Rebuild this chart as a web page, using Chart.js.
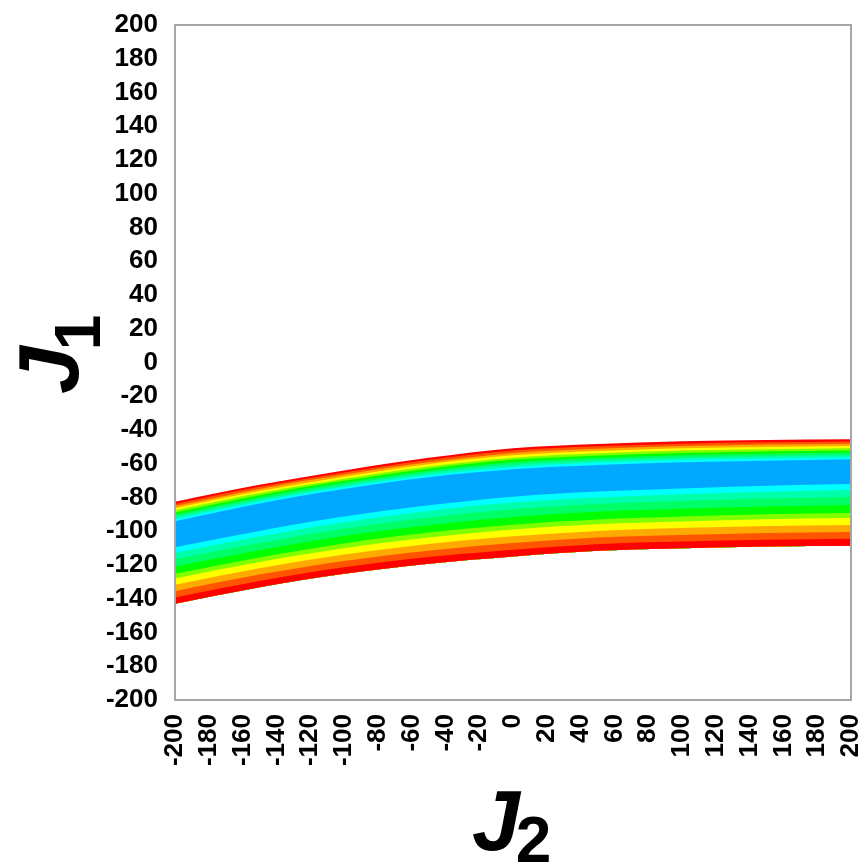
<!DOCTYPE html>
<html>
<head>
<meta charset="utf-8">
<script src="https://cdn.jsdelivr.net/npm/chart.js@4.4.1/dist/chart.umd.min.js"></script>
<style>
  body { margin: 0; background: #fff; }
</style>
</head>
<body>
<canvas id="grafik" width="865" height="866"></canvas>
<script>
// J2 sample positions along the x axis
const j2Values = [-200, -150, -100, -50, 0, 50, 100, 150, 200];

// contour level boundaries (J1 values), top to bottom
const edgeTop    = [-82.5, -72.5, -64,   -56.5, -50.8, -48.3, -46.7, -45.9, -45.5];
const upper1     = [-83.8, -73.7, -65.2, -57.8, -52.2, -49.7, -48.1, -47.3, -46.8];
const upper2     = [-85.1, -74.9, -66.4, -59.1, -53.6, -51.1, -49.5, -48.6, -48.1];
const upper3     = [-86.3, -76.2, -67.7, -60.3, -55.0, -52.4, -50.8, -50.0, -49.5];
const upper4     = [-87.6, -77.4, -68.9, -61.6, -56.4, -53.8, -52.2, -51.4, -50.8];
const upper5     = [-88.9, -78.6, -70.1, -62.9, -57.7, -55.2, -53.6, -52.7, -52.1];
const upper6     = [-90.2, -79.8, -71.3, -64.2, -59.1, -56.6, -55.0, -54.1, -53.4];
const upper7     = [-91.4, -81.1, -72.6, -65.4, -60.5, -57.9, -56.3, -55.5, -54.8];
const upper8     = [-92.7, -82.3, -73.8, -66.7, -61.9, -59.3, -57.7, -56.8, -56.1];
const blueTop    = [-94,   -83.5, -75,   -68,   -63.3, -60.7, -59.1, -58.2, -57.4];
const blueBottom = [-109.5, -99.8, -91.3, -84.6, -79.5, -76.5, -74.6, -73,  -72];
const lower1     = [-112.8, -103.1, -94.7, -88.0, -83.0, -80.0, -78.1, -76.6, -75.6];
const lower2     = [-116.6, -106.9, -98.5, -91.9, -87.0, -83.9, -82.1, -80.6, -79.7];
const lower3     = [-120.9, -111.2, -102.8, -96.4, -91.5, -88.4, -86.7, -85.3, -84.4];
const lower4     = [-125.2, -115.5, -107.2, -100.8, -96.1, -93.0, -91.3, -89.9, -89.2];
const lower5     = [-128.0, -118.2, -110.0, -103.7, -99.0, -95.8, -94.2, -92.9, -92.2];
const lower6     = [-131.7, -121.9, -113.8, -107.5, -103.0, -99.8, -98.1, -96.9, -96.3];
const lower7     = [-135.5, -125.7, -117.6, -111.5, -107.0, -103.7, -102.2, -101.0, -100.4];
const lower8     = [-139.3, -129.5, -121.4, -115.3, -110.9, -107.7, -106.1, -105.1, -104.5];
const edgeBottom = [-143,   -133.2, -125.2, -119.2, -114.9, -111.6, -110.1, -109.1, -108.6];

const levels = [edgeTop, upper1, upper2, upper3, upper4, upper5, upper6, upper7, upper8,
                blueTop, blueBottom, lower1, lower2, lower3, lower4, lower5, lower6, lower7, lower8,
                edgeBottom];

// colour of the band below each boundary
const bandColors = ['#ff0000', '#ff5500', '#ffaa00', '#ffff00', '#80ff00', '#00ff00', '#00ff66', '#00ffaa', '#00ffff',
                    '#00a8ff',
                    '#00ffff', '#00ffaa', '#00ff66', '#00ff00', '#80ff00', '#ffff00', '#ffaa00', '#ff5500', '#ff0000'];

const axisTicks = { min: -200, max: 200, step: 20 };

const last = levels.length - 1;
const datasets = levels.map((lv, i) => ({
    data: j2Values.map((x, k) => ({ x: x, y: lv[k] })),
    fill: i < last ? { target: last } : false,
    backgroundColor: i < last ? bandColors[i] : 'transparent',
    borderWidth: 0,
    borderColor: 'transparent',
    pointRadius: 0,
    cubicInterpolationMode: 'monotone',
    order: levels.length - i
}));

// frame + axis titles J1 / J2
const framePlugin = {
    id: 'frame',
    afterDraw(c) {
        const ctx = c.ctx;
        const a = c.chartArea;
        ctx.save();
        ctx.strokeStyle = '#a6a6a6';
        ctx.lineWidth = 2;
        ctx.strokeRect(a.left, a.top, a.right - a.left, a.bottom - a.top);

        ctx.fillStyle = '#000';
        // x title
        ctx.font = 'italic bold 86px "Liberation Sans", Arial';
        ctx.fillText('J', 472, 850);
        const wJ = ctx.measureText('J').width;
        ctx.font = 'bold 64px "Liberation Sans", Arial';
        ctx.fillText('2', 472 + wJ - 4, 862);

        // y title
        ctx.translate(78, 394);
        ctx.rotate(-Math.PI / 2);
        ctx.font = 'italic bold 86px "Liberation Sans", Arial';
        ctx.fillText('J', 0, 0);
        ctx.font = 'bold 64px "Liberation Sans", Arial';
        ctx.fillText('1', wJ - 4, 22);
        ctx.restore();
    }
};

const tickFont = { family: '"Liberation Sans", Arial', size: 26, weight: 'bold' };

new Chart(document.getElementById('grafik').getContext('2d'), {
    type: 'line',
    data: { datasets: datasets },
    options: {
        responsive: false,
        animation: false,
        layout: { padding: { top: 25, right: 14, left: 0, bottom: 0 } },
        plugins: { legend: { display: false }, tooltip: { enabled: false } },
        scales: {
            x: {
                type: 'linear',
                min: axisTicks.min, max: axisTicks.max,
                grid: { display: false, drawTicks: false },
                border: { display: false },
                ticks: { stepSize: axisTicks.step, autoSkip: false, minRotation: 90, maxRotation: 90,
                         font: tickFont, color: '#000', padding: 14 },
                afterFit(s) { s.height = 166; s.paddingLeft = 0; s.paddingRight = 0; }
            },
            y: {
                type: 'linear',
                min: axisTicks.min, max: axisTicks.max,
                grid: { display: false, drawTicks: false },
                border: { display: false },
                ticks: { stepSize: axisTicks.step, autoSkip: false, font: tickFont, color: '#000', padding: 17 },
                afterFit(s) { s.width = 175; s.paddingTop = 0; s.paddingBottom = 0; }
            }
        }
    },
    plugins: [framePlugin]
});
</script>
</body>
</html>
